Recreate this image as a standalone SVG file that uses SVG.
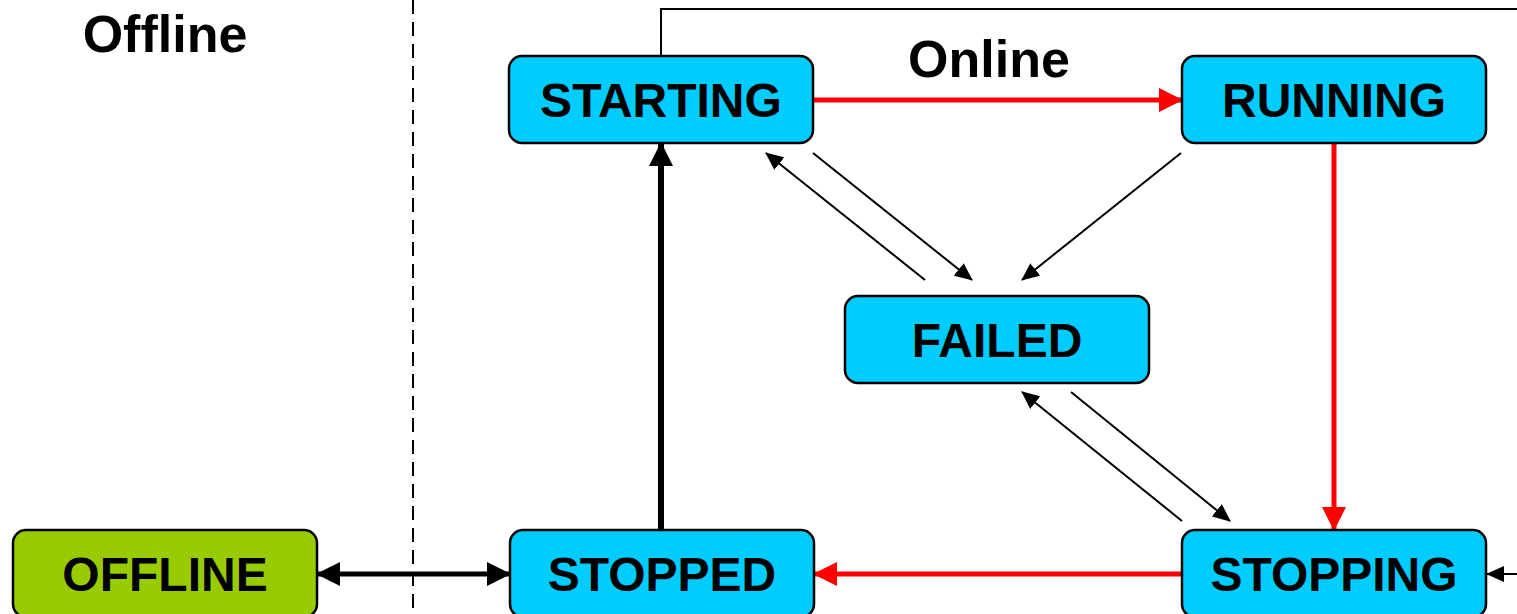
<svg xmlns="http://www.w3.org/2000/svg" width="1517" height="614" viewBox="0 0 1517 614">
<style>
.node rect{stroke:#000;stroke-width:2.5}
.blue rect{fill:#00CCFF}
.green rect{fill:#99CC00}
text{font-family:"Liberation Sans",Arial,sans-serif;font-weight:bold;fill:#000;text-anchor:middle}
.lbl{font-size:48px}
.title{font-size:52px}
.red{stroke:#FF0000;stroke-width:5;fill:none}
.thick{stroke:#000;stroke-width:6;fill:none}
.med{stroke:#000;stroke-width:5;fill:none}
.thin{stroke:#000;stroke-width:2;fill:none}
</style>
<defs>
<marker id="ar" markerUnits="userSpaceOnUse" markerWidth="24" markerHeight="24" refX="23" refY="12" orient="auto"><path d="M0,0 L24,12 L0,24 z" fill="#FF0000"/></marker>
<marker id="ab" markerUnits="userSpaceOnUse" markerWidth="24" markerHeight="24" refX="23" refY="12" orient="auto-start-reverse"><path d="M0,0 L24,12 L0,24 z" fill="#000"/></marker>
<marker id="at" markerUnits="userSpaceOnUse" markerWidth="18" markerHeight="16" refX="17" refY="8" orient="auto"><path d="M0,0 L18,8 L0,16 z" fill="#000"/></marker>
</defs>
<rect width="1517" height="614" fill="#fff"/>
<line x1="413" y1="0" x2="413" y2="614" stroke="#000" stroke-width="2" stroke-dasharray="14,8"/>
<text class="title" x="165" y="52">Offline</text>
<text class="title" x="989" y="77">Online</text>
<g id="connectors">
<polyline class="thin" points="661,56 661,9 1517,9"/>
<line class="red" x1="813" y1="100" x2="1182" y2="100" marker-end="url(#ar)"/>
<line class="red" x1="1334" y1="143" x2="1334" y2="530" marker-end="url(#ar)"/>
<line class="red" x1="1182" y1="574" x2="814" y2="574" marker-end="url(#ar)"/>
<line class="thick" x1="661" y1="530" x2="661" y2="143" marker-end="url(#ab)"/>
<line class="med" x1="317" y1="574" x2="510" y2="574" marker-start="url(#ab)" marker-end="url(#ab)"/>
<line class="thin" x1="1517" y1="574" x2="1487" y2="574" marker-end="url(#at)"/>
<line class="thin" x1="925" y1="280" x2="766" y2="153" marker-end="url(#at)"/>
<line class="thin" x1="813" y1="153" x2="972" y2="280" marker-end="url(#at)"/>
<line class="thin" x1="1181" y1="153" x2="1022" y2="280" marker-end="url(#at)"/>
<line class="thin" x1="1182" y1="521" x2="1022" y2="392" marker-end="url(#at)"/>
<line class="thin" x1="1071" y1="392" x2="1230" y2="521" marker-end="url(#at)"/>
</g>
<g id="starting" class="node blue"><rect x="509" y="56" width="304" height="87" rx="13"/><text class="lbl" x="661" y="117">STARTING</text></g>
<g id="running" class="node blue"><rect x="1182" y="56" width="304" height="87" rx="13"/><text class="lbl" x="1334" y="117">RUNNING</text></g>
<g id="failed" class="node blue"><rect x="845" y="296" width="304" height="87" rx="13"/><text class="lbl" x="997" y="357">FAILED</text></g>
<g id="offline" class="node green"><rect x="13" y="530" width="304" height="87" rx="13"/><text class="lbl" x="165" y="591">OFFLINE</text></g>
<g id="stopped" class="node blue"><rect x="510" y="530" width="304" height="87" rx="13"/><text class="lbl" x="662" y="591">STOPPED</text></g>
<g id="stopping" class="node blue"><rect x="1182" y="530" width="304" height="87" rx="13"/><text class="lbl" x="1334" y="591">STOPPING</text></g>
</svg>
